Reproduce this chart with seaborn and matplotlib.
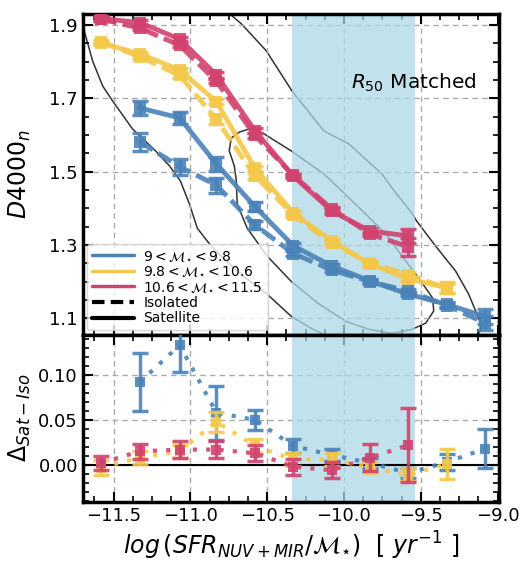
import numpy as np
import pandas as pd
import seaborn as sns
import matplotlib
matplotlib.use("Agg")
import matplotlib.pyplot as plt
from matplotlib.lines import Line2D
from matplotlib.ticker import MultipleLocator

# ---------------- data ----------------
sfr_bins = [-11.58, -11.33, -11.07, -10.83, -10.58, -10.33, -10.08, -9.83, -9.58, -9.33, -9.08]

# 10.6 < M < 11.5 (bins 0..8)
red_sat = [1.918, 1.907, 1.862, 1.764, 1.612, 1.488, 1.393, 1.338, 1.325]
red_sat_err = [0.006, 0.006, 0.006, 0.007, 0.007, 0.006, 0.007, 0.008, 0.020]
red_iso = [1.916, 1.892, 1.845, 1.747, 1.599, 1.490, 1.399, 1.330, 1.295]
red_iso_err = [0.005, 0.005, 0.005, 0.006, 0.006, 0.005, 0.006, 0.006, 0.025]

# 9.8 < M < 10.6 (bins 0..9)
yel_sat = [1.851, 1.822, 1.778, 1.691, 1.510, 1.388, 1.311, 1.248, 1.208, 1.183]
yel_sat_err = [0.006, 0.006, 0.006, 0.007, 0.007, 0.006, 0.006, 0.006, 0.007, 0.015]
yel_iso = [1.854, 1.814, 1.763, 1.643, 1.489, 1.382, 1.305, 1.251, 1.219, 1.182]
yel_iso_err = [0.005, 0.006, 0.006, 0.012, 0.008, 0.006, 0.006, 0.006, 0.007, 0.012]

# 9 < M < 9.8 (bins 1..10)
blu_sat = [1.674, 1.647, 1.521, 1.405, 1.298, 1.243, 1.202, 1.166, 1.138, 1.105]
blu_sat_err = [0.018, 0.016, 0.018, 0.012, 0.008, 0.006, 0.005, 0.006, 0.006, 0.020]
blu_iso = [1.582, 1.514, 1.463, 1.355, 1.277, 1.232, 1.200, 1.175, 1.135, 1.087]
blu_iso_err = [0.025, 0.022, 0.020, 0.012, 0.008, 0.006, 0.005, 0.006, 0.006, 0.020]

# satellite - isolated differences
red_delta = [0.002, 0.015, 0.017, 0.017, 0.013, -0.002, -0.006, 0.008, 0.022]
red_delta_err = [0.008, 0.008, 0.009, 0.009, 0.009, 0.009, 0.009, 0.015, 0.041]
yel_delta = [-0.003, 0.008, 0.015, 0.048, 0.021, 0.006, 0.006, -0.003, -0.011, 0.001]
yel_delta_err = [0.008, 0.007, 0.007, 0.011, 0.008, 0.007, 0.007, 0.006, 0.007, 0.017]
blu_delta = [0.092, 0.133, 0.058, 0.050, 0.021, 0.011, 0.002, -0.009, 0.003, 0.018]
blu_delta_err = [0.032, 0.030, 0.030, 0.011, 0.008, 0.007, 0.006, 0.006, 0.009, 0.022]

# sample density contours
outer_left_x = [-11.70, -11.636, -11.571, -11.506, -11.377, -11.227, -11.136, -11.065, -11.006,
                -10.955, -10.864, -10.766, -10.636, -10.50, -10.344, -10.214, -10.097, -10.06]
outer_left_y = [1.898, 1.802, 1.734, 1.693, 1.617, 1.557, 1.516, 1.475, 1.412,
                1.346, 1.297, 1.256, 1.209, 1.166, 1.106, 1.073, 1.049, 1.040]
outer_right_x = [-10.77, -10.669, -10.506, -10.422, -10.338, -10.130, -9.968, -9.903, -9.753,
                 -9.688, -9.558, -9.526, -9.403, -9.273, -9.188, -9.123, -9.104, -9.136, -9.145]
outer_right_y = [1.94, 1.904, 1.830, 1.775, 1.720, 1.611, 1.576, 1.551, 1.494,
                 1.456, 1.387, 1.365, 1.297, 1.229, 1.166, 1.100, 1.073, 1.051, 1.040]
inner_x = [-10.617, -10.682, -10.734, -10.747, -10.714, -10.701, -10.695, -10.630, -10.50,
           -10.344, -10.162, -9.987, -9.838, -9.688, -9.558, -9.468, -9.416, -9.422, -9.513,
           -9.597, -9.727, -9.857, -10.013, -10.130, -10.344, -10.519, -10.617]
inner_y = [1.617, 1.608, 1.592, 1.557, 1.516, 1.475, 1.412, 1.346, 1.270,
           1.201, 1.139, 1.092, 1.070, 1.059, 1.070, 1.087, 1.120, 1.155, 1.210,
           1.256, 1.330, 1.384, 1.447, 1.494, 1.557, 1.603, 1.617]

matched_range = (-10.34, -9.535)

mass_labels = [r"$9 < \mathcal{M}_{\star} < 9.8$",
               r"$9.8 < \mathcal{M}_{\star} < 10.6$",
               r"$10.6 < \mathcal{M}_{\star} < 11.5$"]
colors = ["#4a83b8", "#f4c84a", "#d2426f"]

# ---------------- style ----------------
sns.set_style("ticks")
plt.rcParams.update({
    "font.family": ["DejaVu Sans"],
    "mathtext.fontset": "dejavusans",
    "text.color": "black", "axes.labelcolor": "black", "axes.edgecolor": "black",
    "xtick.color": "black", "ytick.color": "black",
    "xtick.direction": "in", "ytick.direction": "in",
    "xtick.top": True, "ytick.right": True,
    "xtick.major.size": 7, "ytick.major.size": 7,
    "xtick.minor.size": 4, "ytick.minor.size": 4,
    "xtick.major.width": 1.5, "ytick.major.width": 1.5,
    "xtick.minor.width": 1.2, "ytick.minor.width": 1.2,
    "xtick.labelsize": 13, "ytick.labelsize": 13,
    "axes.linewidth": 2.5,
})

fig = plt.figure(figsize=(5.21, 5.65), dpi=100)
gs = fig.add_gridspec(2, 1, height_ratios=[320, 167], hspace=0,
                      left=0.159, right=0.958, top=0.975, bottom=0.112)
ax = fig.add_subplot(gs[0])
axd = fig.add_subplot(gs[1], sharex=ax)

# ---------------- top panel ----------------
for cx, cy in [(outer_left_x, outer_left_y), (outer_right_x, outer_right_y), (inner_x, inner_y)]:
    ax.plot(cx, cy, color="#333333", lw=1.1, zorder=0.5)

for a in (ax, axd):
    a.axvspan(*matched_range, color="lightblue", alpha=0.75, lw=0, zorder=1)
    a.grid(True, ls=(0, (4, 3)), color="#aaaaaa", lw=1.0, zorder=1.5)
    a.tick_params(which="both", direction="in", top=True, right=True, colors="black")

series = [
    (sfr_bins[1:], blu_sat, blu_sat_err, blu_iso, blu_iso_err, colors[0]),
    (sfr_bins[0:10], yel_sat, yel_sat_err, yel_iso, yel_iso_err, colors[1]),
    (sfr_bins[0:9], red_sat, red_sat_err, red_iso, red_iso_err, colors[2]),
]
for i, (xs, ys, es, yi, ei, c) in enumerate(series):
    df = pd.DataFrame({"x": xs, "sat": ys, "iso": yi})
    sns.lineplot(data=df, x="x", y="iso", ax=ax, color=c, lw=3.5, linestyle=(0, (3.2, 1.3)),
                 marker="s", markersize=8, markeredgewidth=0, alpha=0.9, zorder=3 + i)
    ax.errorbar(xs, yi, yerr=ei, fmt="none", ecolor=c, elinewidth=2.5, capsize=6,
                capthick=2.5, alpha=0.9, zorder=3 + i)
    sns.lineplot(data=df, x="x", y="sat", ax=ax, color=c, lw=3.5,
                 marker="s", markersize=8, markeredgewidth=0, alpha=0.9, zorder=3 + i)
    ax.errorbar(xs, ys, yerr=es, fmt="none", ecolor=c, elinewidth=2.5, capsize=6,
                capthick=2.5, alpha=0.9, zorder=3 + i)

ax.set_ylim(1.056, 1.93)
ax.set_xlim(-11.7, -8.99)
ax.yaxis.set_minor_locator(MultipleLocator(0.05))
ax.set_yticks([1.1, 1.3, 1.5, 1.7, 1.9])
ax.set_ylabel(r"$D4000_n$", fontsize=17, labelpad=4)
ax.set_xlabel("")
plt.setp(ax.get_xticklabels(), visible=False)

ax.text(-9.955, 1.742, r"$R_{50}$ Matched", fontsize=14.5, va="center", ha="left", zorder=6)

handles = [Line2D([], [], color=c, lw=2.5) for c in colors] + [
    Line2D([], [], color="black", lw=3, ls=(0, (3, 1.5))),
    Line2D([], [], color="black", lw=3)]
labels = mass_labels + ["Isolated", "Satellite"]
leg = ax.legend(handles, labels, loc="lower left", fontsize=10, handlelength=3.0,
                labelspacing=0.12, borderpad=0.35, handletextpad=0.7, framealpha=0.8,
                borderaxespad=0.3)
leg.get_frame().set_edgecolor("#cccccc")
leg.set_zorder(10)

# ---------------- bottom panel ----------------
axd.axhline(0, color="black", lw=1.5, zorder=2)
dseries = [
    (sfr_bins[1:], blu_delta, blu_delta_err, colors[0]),
    (sfr_bins[0:10], yel_delta, yel_delta_err, colors[1]),
    (sfr_bins[0:9], red_delta, red_delta_err, colors[2]),
]
for i, (xs, d, de, c) in enumerate(dseries):
    df = pd.DataFrame({"x": xs, "d": d})
    sns.lineplot(data=df, x="x", y="d", ax=axd, color=c, lw=3, linestyle=(0, (1, 2.2)),
                 marker="s", markersize=7, markeredgewidth=0, alpha=0.9, zorder=3 + i)
    axd.errorbar(xs, d, yerr=de, fmt="none", ecolor=c, elinewidth=2.5, capsize=6,
                 capthick=2.5, alpha=0.9, zorder=3 + i)

axd.set_ylim(-0.041, 0.145)
axd.yaxis.set_major_locator(MultipleLocator(0.05))
axd.yaxis.set_minor_locator(MultipleLocator(0.01))
axd.xaxis.set_major_locator(MultipleLocator(0.5))
axd.xaxis.set_minor_locator(MultipleLocator(0.125))
axd.set_ylabel(r"$\Delta_{Sat-Iso}$", fontsize=17, labelpad=4)
axd.set_xlabel(r"$log\,(SFR_{NUV+MIR}/\mathcal{M}_{\star})\ \ [\ yr^{-1}\ ]$", fontsize=17)
axd.set_xlim(-11.7, -8.99)

fig.align_ylabels([ax, axd])
fig.savefig("out.png", dpi=100)
